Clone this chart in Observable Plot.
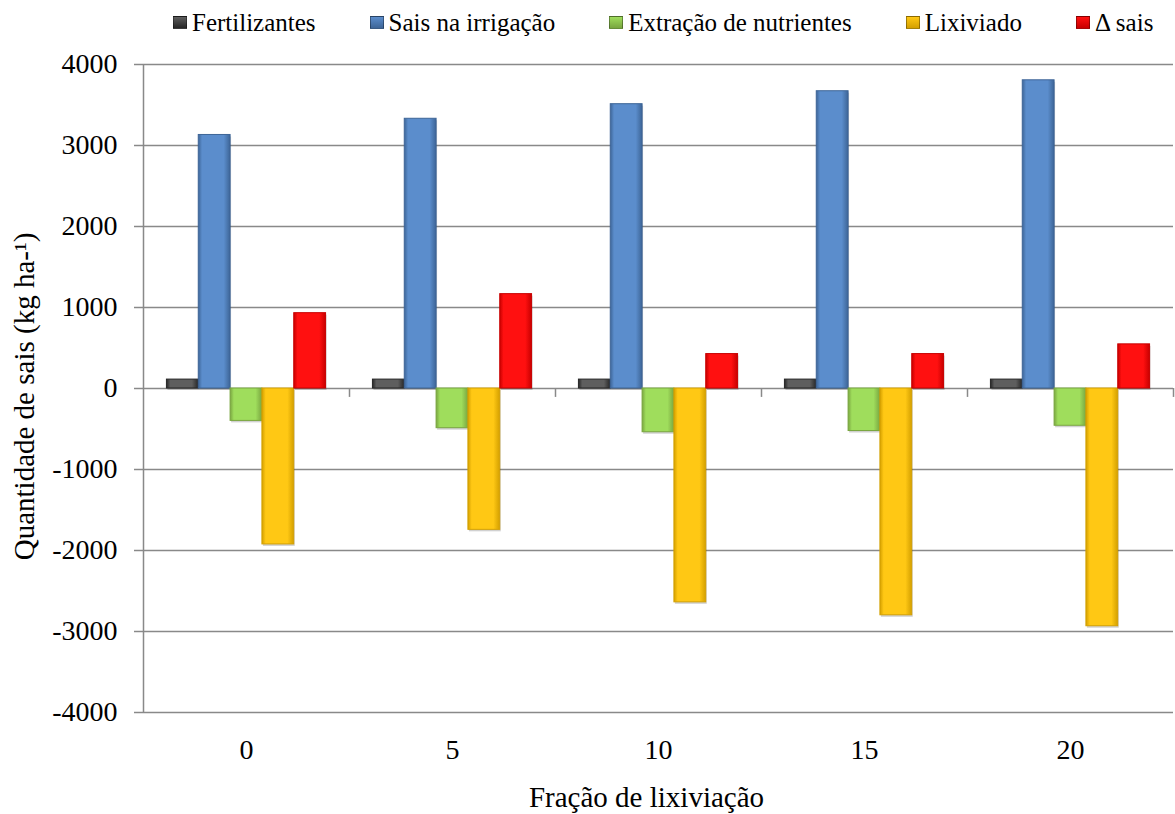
<!DOCTYPE html>
<html>
<head>
<meta charset="utf-8">
<script src="https://cdn.jsdelivr.net/npm/d3@7"></script>
<script src="https://cdn.jsdelivr.net/npm/@observablehq/plot@0.6"></script>
<style>
  html, body { margin: 0; padding: 0; background: #fff; }
  #wrap { width: 1175px; }
  #legend { height: 40px; position: relative; display: flex; align-items: center; padding-left: 173px; box-sizing: border-box; white-space: nowrap; }
  .item { display: flex; align-items: center; margin-right: 54px; font-size: 25px; color: #000; line-height: 1; padding-top: 4px; white-space: nowrap; flex: none; font-family: 'Liberation Serif', serif; }
  .sw { width: 14px; height: 13px; margin-right: 5px; box-sizing: border-box; border: 1px solid rgba(0,0,0,0.35); flex: none; }
  svg text { font-family: 'Liberation Serif', serif !important; }
  [aria-label="y-axis tick label"], [aria-label="x-axis tick label"] { font-size: 28px; fill: #000; }
  [aria-label="y-axis tick"] { stroke: #898989; stroke-width: 1.5; }
</style>
</head>
<body>
<div id="wrap">
  <div id="legend"></div>
  <div id="chart"></div>
</div>
<script>
// ---- data ----
const fracoes = ["0", "5", "10", "15", "20"];
const series = ["Fertilizantes", "Sais na irrigação", "Extração de nutrientes", "Lixiviado", "Δ sais"];
const fertilizantes = [110, 110, 110, 110, 110];
const saisIrrigacao = [3130, 3330, 3510, 3670, 3805];
const extracao = [-400, -490, -540, -525, -460];
const lixiviado = [-1925, -1745, -2640, -2800, -2935];
const deltaSais = [930, 1165, 425, 425, 545];
const yTicks = [-4000, -3000, -2000, -1000, 0, 1000, 2000, 3000, 4000];

// colours: [edge, centre]
const colors = [
  ["#262626", "#5e5e5e"],
  ["#3d6597", "#5b8dcc"],
  ["#79a640", "#9fdd5c"],
  ["#d4a000", "#ffc814"],
  ["#c80000", "#ff1010"]
];

const valuesBySeries = [fertilizantes, saisIrrigacao, extracao, lixiviado, deltaSais];
const table = [];
fracoes.forEach((f, gi) => {
  series.forEach((s, si) => {
    table.push({gi, si, fracao: f, serie: s, value: valuesBySeries[si][gi]});
  });
});

// layout within each group (fractions of a group's width)
const nS = series.length;
const barW = 0.1545;
const pad = (1 - nS * barW) / 2;
const xs1 = d => d.gi + pad + d.si * barW;
const xs2 = d => d.gi + pad + (d.si + 1) * barW;

// legend
const leg = d3.select("#legend");
series.forEach((s, i) => {
  const it = leg.append("div").attr("class", "item")
    .style("font-family", "'Liberation Serif', serif");
  it.append("div").attr("class", "sw")
    .style("background", `linear-gradient(to bottom, ${colors[i][1]}, ${colors[i][0]})`);
  it.append("span").text(s);
});

const gradientDefs = () => {
  const defs = d3.create("svg:defs");
  colors.forEach((c, i) => {
    const g = defs.append("linearGradient").attr("id", "grad" + i)
      .attr("x1", 0).attr("x2", 1).attr("y1", 0).attr("y2", 0);
    g.append("stop").attr("offset", "0%").attr("stop-color", c[0]);
    g.append("stop").attr("offset", "12%").attr("stop-color", c[1]);
    g.append("stop").attr("offset", "80%").attr("stop-color", c[1]);
    g.append("stop").attr("offset", "100%").attr("stop-color", c[0]);
  });
  return defs.node();
};

const grid = "#898989";
const chart = Plot.plot({
  width: 1175,
  height: 774,
  marginLeft: 143,
  marginRight: 2,
  marginTop: 24,
  marginBottom: 102,
  style: {fontFamily: "'Liberation Serif', serif", background: "#fff"},
  x: {
    type: "linear",
    domain: [0, fracoes.length],
    ticks: fracoes.map((f, i) => i + 0.5),
    tickFormat: d => fracoes[Math.floor(d)],
    tickSize: 0,
    tickPadding: 27,
    label: null
  },
  y: {
    domain: [-4000, 4000],
    ticks: yTicks,
    tickFormat: d => String(d),
    tickSize: 9,
    tickPadding: 17,
    label: null
  },
  marks: [
    gradientDefs,
    Plot.ruleY(yTicks, {stroke: grid, strokeWidth: 1.5}),
    Plot.ruleX(fracoes.map((f, i) => i + 1), {y1: 0, y2: -110, stroke: grid, strokeWidth: 1.5}),
    Plot.ruleX([0], {y1: -4000, y2: 4000, stroke: grid, strokeWidth: 1.5}),
    // shadow
    Plot.rectY(table, {x1: xs1, x2: xs2, y1: 0, y2: "value", fill: "#000", fillOpacity: 0.18, dx: 1, dy: 2}),
    Plot.rectY(table, {
      x1: xs1, x2: xs2, y1: 0, y2: "value",
      fill: d => `url(#grad${d.si})`,
      stroke: d => colors[d.si][0],
      strokeWidth: 1
    }),
    Plot.text(["Fração de lixiviação"], {
      frameAnchor: "bottom", dy: 85, dx: -12, fontSize: 29, lineAnchor: "middle", textAnchor: "middle", fill: "#000"
    }),
    Plot.text(["Quantidade de sais (kg ha-¹)"], {
      frameAnchor: "left", dx: -119, dy: 8, rotate: -90, fontSize: 29, lineAnchor: "middle", textAnchor: "middle", fill: "#000"
    })
  ]
});
document.getElementById("chart").appendChild(chart);
</script>
</body>
</html>
